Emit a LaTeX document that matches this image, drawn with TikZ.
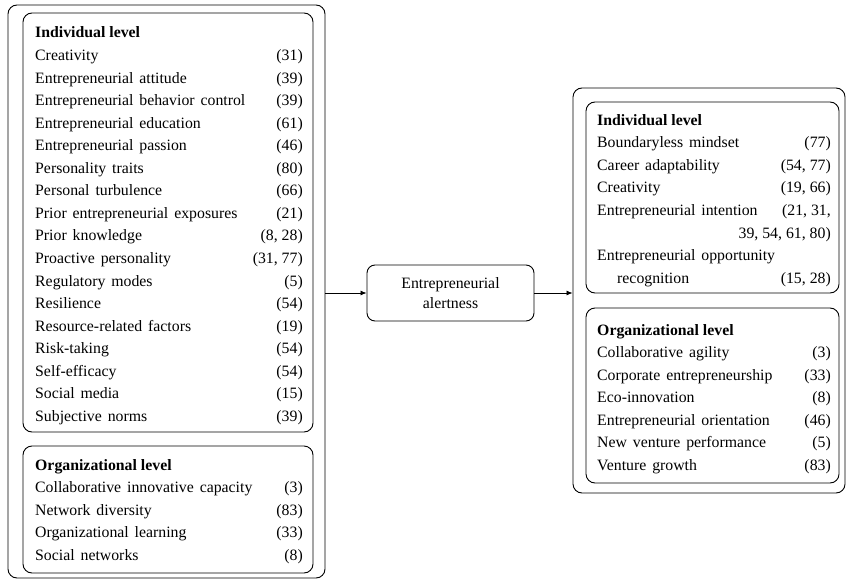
\documentclass[tikz,border=0pt]{standalone}
\usepackage{fontspec}
\setmainfont{Liberation Serif}
\newfontfamily\itemfont[WordSpace=1.5]{Liberation Serif}
\usetikzlibrary{arrows.meta,fit}
\begin{document}
\begin{tikzpicture}[x=1pt,y=-1pt,
  every node/.style={font=\fontsize{15.8}{19.5}\selectfont},
  box/.style={draw, line width=0.9pt, rounded corners=9pt, inner sep=0pt},
  item/.style={anchor=base west, inner sep=0pt, font=\fontsize{15.8}{19.5}\selectfont\itemfont},
  refs/.style={anchor=base east, inner sep=0pt},
  head/.style={anchor=base west, inner sep=0pt, font=\fontsize{15.8}{19.5}\selectfont\bfseries},
  link/.style={-{Latex[length=6pt,width=5pt]}, line width=0.8pt}]
\useasboundingbox (0,0) rectangle (848,580);

% antecedents
\node[box, fit={(8,5) (325,578)}] (causes) {};
\node[box, fit={(23,13) (313,432)}] (causesind) {};
\node[box, fit={(23,446) (313,573)}] (causesorg) {};

\node[head] (lihead) at (35,38) {Individual level};
\foreach \what/\ref [count=\i] in {Creativity/(31), Entrepreneurial attitude/(39),
    Entrepreneurial behavior control/(39), Entrepreneurial education/(61),
    Entrepreneurial passion/(46), Personality traits/(80), Personal turbulence/(66),
    Prior entrepreneurial exposures/(21), Prior knowledge/{(8, 28)},
    Proactive personality/{(31, 77)}, Regulatory modes/(5), Resilience/(54),
    Resource-related factors/(19), Risk-taking/(54), Self-efficacy/(54),
    Social media/(15), Subjective norms/(39)}{
  \node[item] (li\i) at (35,{38+22.55*\i}) {\what};
  \node[refs] (lr\i) at (303,{38+22.55*\i}) {\ref};
}

\node[head] (lohead) at (35,470) {Organizational level};
\foreach \what/\ref [count=\i] in {Collaborative innovative capacity/(3),
    Network diversity/(83), Organizational learning/(33), Social networks/(8)}{
  \node[item] (lo\i) at (35,{470+22.6*\i}) {\what};
  \node[refs] (lor\i) at (303,{470+22.6*\i}) {\ref};
}

% mediator
\node[box, rounded corners=8pt, minimum width=167pt, minimum height=56pt,
      align=center] (alert) at (450.5,293) {Entrepreneurial\\alertness};

% outcomes
\node[box, fit={(573,88) (845,493)}] (outcomes) {};
\node[box, fit={(586,102) (839,293)}] (outcomesind) {};
\node[box, fit={(586,308) (839,483)}] (outcomesorg) {};

\node[head] (rihead) at (597,125.5) {Individual level};
\foreach \what/\ref [count=\i] in {Boundaryless mindset/(77),
    Career adaptability/{(54, 77)}, Creativity/{(19, 66)}}{
  \node[item] (ri\i) at (597,{125.5+22.5*\i}) {\what};
  \node[refs] (rr\i) at (831,{125.5+22.5*\i}) {\ref};
}
\node[item] (ri4) at (597,215.5) {Entrepreneurial intention};
\node[refs] (rr4) at (831,215.5) {(21, 31,};
\node[refs] (rr4b) at (831,238) {39, 54, 61, 80)};
\node[item] (ri5) at (597,260.5) {Entrepreneurial opportunity};
\node[item] (ri5b) at (617,283) {recognition};
\node[refs] (rr5) at (831,283) {(15, 28)};

\node[head] (rohead) at (597,335.5) {Organizational level};
\foreach \what/\ref [count=\i] in {Collaborative agility/(3),
    Corporate entrepreneurship/(33), Eco-innovation/(8),
    Entrepreneurial orientation/(46), New venture performance/(5),
    Venture growth/(83)}{
  \node[item] (ro\i) at (597,{335.5+22.45*\i}) {\what};
  \node[refs] (ror\i) at (831,{335.5+22.45*\i}) {\ref};
}

% links
\draw[link] (causes.east |- alert) -- (alert);
\draw[link] (alert) -- (alert -| outcomes.west);
\end{tikzpicture}
\end{document}
